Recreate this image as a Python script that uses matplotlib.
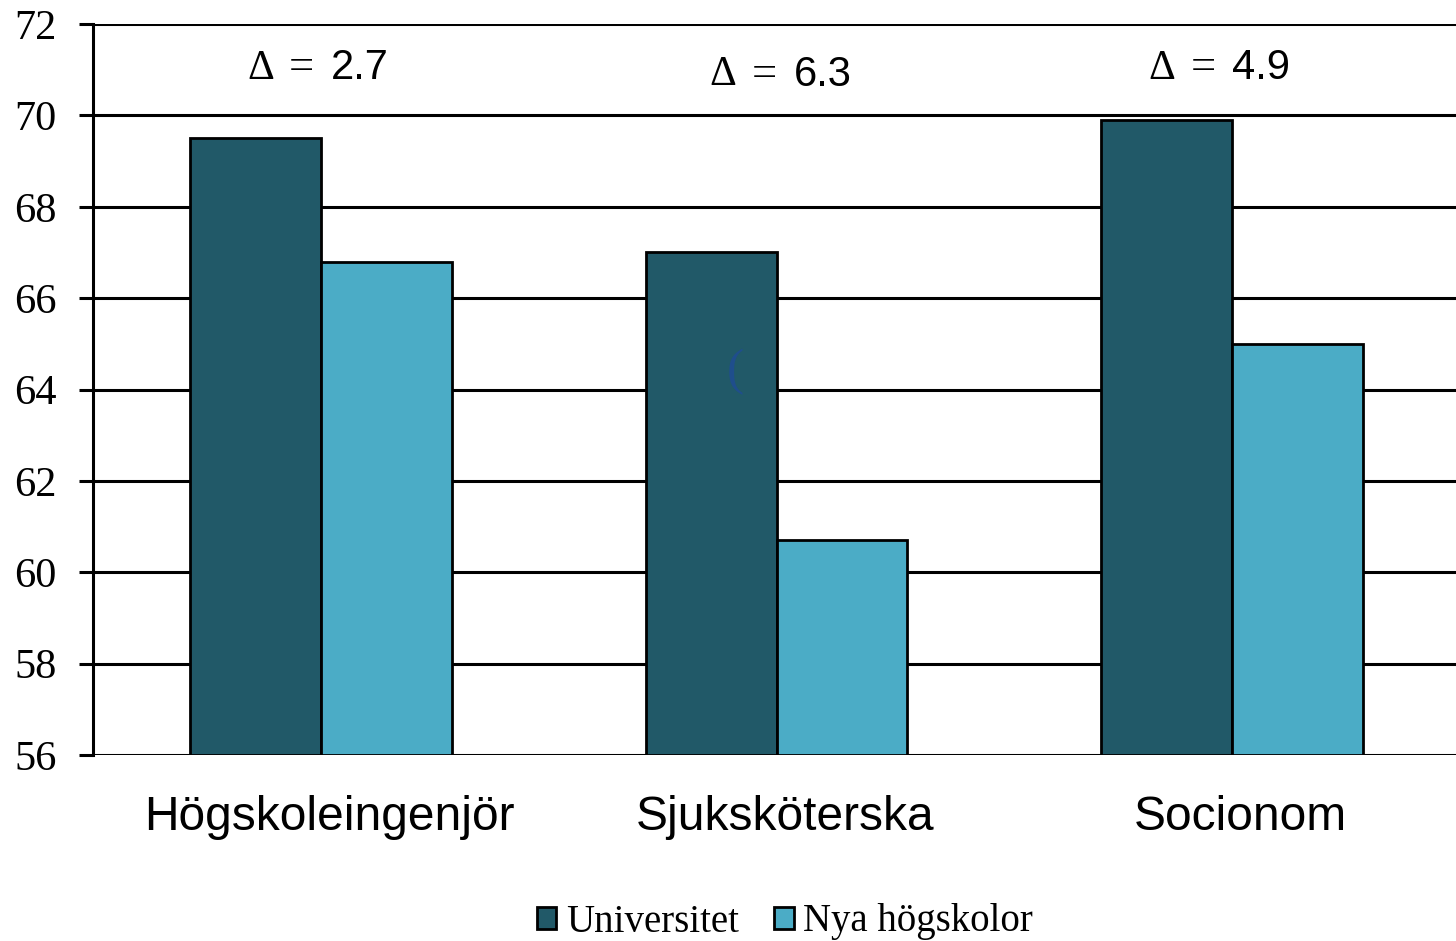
import matplotlib
matplotlib.use("Agg")
import matplotlib.pyplot as plt
from matplotlib.patches import Patch
import numpy as np

categories = ["Högskoleingenjör", "Sjuksköterska", "Socionom"]
universitet = [69.5, 67.0, 69.9]
nya_hogskolor = [66.8, 60.7, 65.0]
deltas = ["2.7", "6.3", "4.9"]
series_names = ["Universitet", "Nya högskolor"]
yticks = [56, 58, 60, 62, 64, 66, 68, 70, 72]

c_dark = "#215968"
c_light = "#4BACC6"

W, H = 1456, 941
fig = plt.figure(figsize=(W / 100, H / 100), dpi=100)
ax = fig.add_axes([93 / W, 1 - 755 / H, (1460 - 93) / W, (755 - 24) / H])

x = np.arange(len(categories))
bw = 0.287
ax.bar(x - bw / 2, np.array(universitet) - 56, bw, bottom=56, color=c_dark,
       edgecolor="black", linewidth=2, zorder=3)
ax.bar(x + bw / 2, np.array(nya_hogskolor) - 56, bw, bottom=56, color=c_light,
       edgecolor="black", linewidth=2, zorder=3)

ax.set_xlim(-0.5, 2.5)
ax.set_ylim(56, 72)
ax.set_yticks(yticks)
ax.set_yticklabels([str(v) for v in yticks], family="Liberation Serif", fontsize=30.5)
ax.yaxis.grid(True, color="black", linewidth=2.2, zorder=1)
ax.set_axisbelow(True)
for s in ["top", "right", "bottom"]:
    ax.spines[s].set_visible(False)
ax.spines["left"].set_linewidth(2.2)
ax.tick_params(axis="y", length=10, width=2.2, pad=16, direction="out")
ax.set_xticks([])
for i, c in enumerate(categories):
    ax.annotate(c, xy=(i, 56), xytext=(6, -45), textcoords="offset points",
                ha="center", va="center", family="Liberation Sans", fontsize=34.5)

# delta annotations: Δ (serif), = (serif), value (sans)
delta_x = [-0.162, 0.853, 1.816]   # left edge of Δ, data units
delta_y = [71.03, 70.88, 71.03]
for d, xx, yy in zip(deltas, delta_x, delta_y):
    ax.annotate("Δ", xy=(xx, yy), xytext=(0, 0), textcoords="offset points",
                ha="left", va="center", family="Liberation Serif", fontsize=30)
    ax.annotate("=", xy=(xx, yy), xytext=(54.5 * 0.72, 0), textcoords="offset points",
                ha="center", va="center", family="Liberation Serif", fontsize=32)
    ax.annotate(d, xy=(xx, yy), xytext=(84 * 0.72, 0), textcoords="offset points",
                ha="left", va="center", family="Liberation Sans", fontsize=30)

# small stray glyph present in the original
ax.text(0.910, 64.38, "(", color="#1F4E8C", family="Liberation Serif",
        fontsize=37, ha="center", va="center", zorder=5)

handles = [Patch(facecolor=c_dark, edgecolor="black", linewidth=2),
           Patch(facecolor=c_light, edgecolor="black", linewidth=2)]
fig.legend(handles, series_names, loc="center", bbox_to_anchor=(785 / W, 1 - 922 / H),
           ncol=2, frameon=False, prop={"family": "Liberation Serif", "size": 28},
           handlelength=0.5, handleheight=0.5, handletextpad=0.25, columnspacing=0.9)

fig.savefig("out.png", dpi=100)
